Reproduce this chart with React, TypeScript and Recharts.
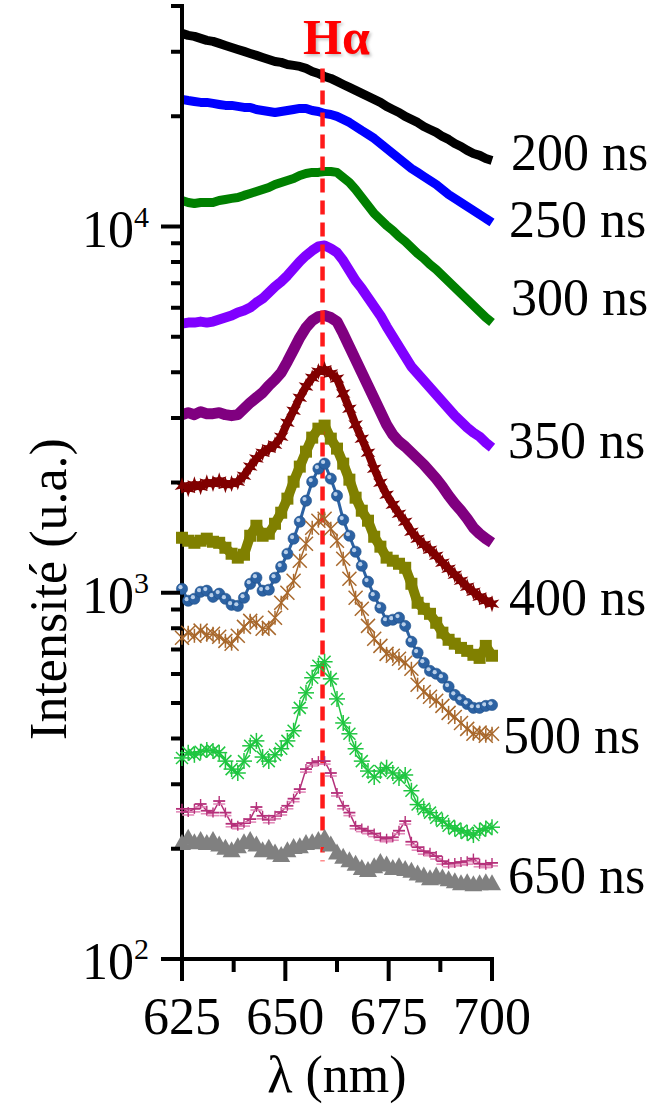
import React from "react";
import { LineChart, Line, XAxis, YAxis } from "recharts";

// Wavelength grid (nm)
const wavelengths = [
  625, 626.5, 628, 629.5, 631, 632.5, 634, 635.5, 637, 638.5, 640, 641.5, 643, 644.5, 646, 647.5, 649,
  650.5, 652, 653.5, 655, 656.5, 658, 659.5, 661, 662.5, 664, 665.5, 667, 668.5, 670, 671.5, 673, 674.5,
  676, 677.5, 679, 680.5, 682, 683.5, 685, 686.5, 688, 689.5, 691, 692.5, 694, 695.5, 697, 698.5, 700,
];

// Spectra, one array per delay (arbitrary units)
const ns200 = [
  33680, 33260, 33050, 32630, 32220, 32020, 31620, 31220, 30830, 30440, 30070, 29690, 29320, 28950, 28590,
  28230, 28060, 27700, 27530, 27360, 27020, 26510, 26180, 25690, 25370, 24900, 24430, 23980, 23530, 23090,
  22660, 22240, 21820, 21280, 20870, 20480, 19980, 19610, 19240, 18760, 18410, 18070, 17620, 17290, 16860,
  16540, 16140, 15830, 15640, 15340, 15150,
];
const ns250 = [
  22240, 22080, 21950, 21820, 21820, 21680, 21540, 21410, 21410, 21280, 21140, 21140, 20870, 20740, 20610,
  20480, 20610, 20740, 20870, 21010, 21010, 20740, 20610, 20350, 20230, 19980, 19610, 19240, 18760, 18280,
  17840, 17400, 16860, 16340, 15830, 15340, 14860, 14400, 14050, 13700, 13350, 13020, 12620, 12230, 11930,
  11630, 11340, 11060, 10780, 10520, 10250,
];
const ns300 = [
  11780, 11630, 11560, 11630, 11630, 11630, 11780, 11850, 11930, 12000, 12160, 12310, 12460, 12620, 12780,
  13020, 13190, 13350, 13520, 13780, 13960, 14050, 14050, 14130, 14130, 14050, 13610, 13190, 12620, 12000,
  11410, 10850, 10450, 10060, 9752, 9391, 9100, 8763, 8437, 8176, 7873, 7629, 7346, 7074, 6813, 6560, 6317,
  6083, 5858, 5641, 5466,
];
const ns300b = [
  5431, 5466, 5466, 5500, 5466, 5500, 5571, 5641, 5712, 5821, 5895, 6007, 6199, 6357, 6602, 6856, 7074,
  7346, 7678, 8024, 8332, 8599, 8819, 8875, 8708, 8491, 8074, 7582, 7118, 6770, 6397, 6045, 5712, 5331,
  5006, 4700, 4414, 4145, 3966, 3795, 3632, 3475, 3325, 3182, 3045, 2932, 2824, 2736, 2668, 2570, 2490,
];
const ns350 = [
  3064, 3103, 3064, 3122, 3083, 3083, 3103, 3064, 3045, 3064, 3182, 3304, 3410, 3519, 3678, 3819, 3991,
  4277, 4612, 4975, 5298, 5536, 5676, 5712, 5641, 5500, 5102, 4700, 4331, 3991, 3678, 3389, 3122, 2878,
  2702, 2586, 2506, 2413, 2324, 2238, 2141, 2049, 1948, 1841, 1751, 1675, 1593, 1505, 1449, 1405, 1369,
];
const ns400 = [
  1960, 1924, 1973, 1948, 1998, 1986, 2022, 1973, 1986, 2010, 2087, 2210, 2324, 2413, 2475, 2537, 2668,
  2914, 3142, 3410, 3655, 3867, 4016, 4067, 3966, 3843, 3497, 3182, 2878, 2635, 2413, 2182, 1998, 1853,
  1740, 1644, 1563, 1468, 1405, 1353, 1311, 1262, 1208, 1163, 1120, 1078, 1038, 1006, 975, 951, 933,
];
const ns450 = [
  1413, 1387, 1369, 1387, 1405, 1378, 1369, 1327, 1278, 1247, 1270, 1431, 1524, 1431, 1449, 1543, 1654,
  1807, 2010, 2210, 2428, 2652, 2806, 2860, 2635, 2475, 2252, 2036, 1818, 1675, 1573, 1422, 1336, 1247,
  1223, 1200, 1170, 1058, 939, 904, 876, 828, 778, 744, 726, 707, 694, 677, 664, 716, 673,
];
const ns500 = [
  1025, 951, 963, 1006, 1013, 975, 994, 963, 927, 921, 969, 1058, 1099, 1013, 1019, 1099, 1178, 1278,
  1405, 1563, 1784, 2010, 2182, 2252, 2049, 1841, 1583, 1431, 1294, 1185, 1072, 981, 910, 838, 844, 855,
  812, 735, 686, 644, 612, 601, 586, 554, 526, 510, 497, 485, 485, 491, 494,
];
const ns550 = [
  754, 778, 763, 788, 768, 773, 758, 739, 726, 763, 807, 838, 828, 797, 802, 855, 939, 1000, 1078, 1223,
  1361, 1505, 1573, 1593, 1496, 1387, 1239, 1092, 969, 904, 812, 749, 716, 681, 673, 660, 644, 620, 561,
  536, 520, 507, 491, 470, 458, 441, 425, 412, 415, 407, 412,
];
const ns600 = [
  354, 366, 361, 368, 372, 370, 366, 347, 330, 322, 347, 382, 394, 356, 347, 361, 375, 394, 420, 485, 533,
  586, 632, 648, 582, 513, 441, 412, 375, 347, 326, 314, 326, 333, 322, 312, 318, 288, 264, 257, 251, 243,
  238, 231, 227, 224, 221, 218, 224, 227, 229,
];
const ns625 = [
  257, 252, 257, 265, 254, 251, 270, 251, 234, 231, 235, 241, 260, 246, 240, 246, 252, 262, 274, 291, 330,
  343, 347, 347, 322, 284, 262, 251, 231, 227, 224, 220, 215, 213, 215, 224, 238, 209, 202, 197, 195, 191,
  185, 182, 183, 184, 185, 188, 182, 181, 183,
];
const ns650 = [
  206, 213, 207, 210, 206, 210, 204, 200, 197, 202, 207, 210, 204, 197, 200, 194, 191, 197, 201, 202, 206,
  207, 210, 213, 204, 194, 189, 185, 181, 176, 174, 178, 183, 180, 176, 178, 175, 173, 170, 168, 165, 168,
  166, 164, 162, 160, 161, 159, 160, 161, 160,
];

// H-alpha marker line: wavelength and intensity span
const hAlphaWl = 659;
const hAlphaSpan = [27000, 185];

const xTicks = [625, 637.5, 650, 662.5, 675, 687.5, 700];
const xMajor = [625, 650, 675, 700];
const yTicks = [
  100, 200, 300, 400, 500, 600, 700, 800, 900, 1000, 2000, 3000, 4000, 5000, 6000, 7000, 8000, 9000,
  10000, 20000, 30000, 40000,
];
const yMajor = [100, 1000, 10000];

const delayLabels = ["200 ns", "250 ns", "300 ns", "350 ns", "400 ns", "500 ns", "650 ns"];
const labelX = [511, 509, 511, 508, 509, 503, 508];
const labelY = [170, 237, 315, 458, 615, 753, 893];

const rows = wavelengths.map((wl, i) => ({
  wl,
  a: ns200[i],
  b: ns250[i],
  c: ns300[i],
  d: ns300b[i],
  e: ns350[i],
  f: ns400[i],
  g: ns450[i],
  h: ns500[i],
  k: ns550[i],
  m: ns600[i],
  n: ns625[i],
  p: ns650[i],
}));

const hAlphaRows = hAlphaSpan.map((v) => ({ wl: hAlphaWl, v }));

const SERIF = { fontFamily: '"Liberation Serif", "Times New Roman", Times, serif' };

function polyPoints(cx: number, cy: number, ro: number, ri: number, n: number) {
  const pts: string[] = [];
  for (let i = 0; i < n * 2; i++) {
    const r = i % 2 === 0 ? ro : ri;
    const a = (Math.PI * i) / n - Math.PI / 2;
    pts.push(`${cx + r * Math.cos(a)},${cy + r * Math.sin(a)}`);
  }
  return pts.join(" ");
}

// marker shapes
const starDot = (p: any) => (
  <polygon key={`st${p.index}`} points={polyPoints(p.cx, p.cy, 8.5, 3.5, 6)} fill="#800000" />
);
const squareDot = (p: any) => (
  <rect key={`sq${p.index}`} x={p.cx - 6} y={p.cy - 6} width={12} height={12} fill="#808000" />
);
const ballDot = (p: any) => (
  <g key={`ba${p.index}`}>
    <circle cx={p.cx} cy={p.cy} r={5.6} fill="#2c62a3" stroke="#1f4f88" strokeWidth={0.6} />
    <circle cx={p.cx - 1.5} cy={p.cy - 1.6} r={2.1} fill="#b9cfe9" />
  </g>
);
const crossDot = (p: any) => (
  <g key={`cr${p.index}`} stroke="#a8682c" strokeWidth={1.5}>
    <line x1={p.cx - 7} y1={p.cy - 7} x2={p.cx + 7} y2={p.cy + 7} />
    <line x1={p.cx - 7} y1={p.cy + 7} x2={p.cx + 7} y2={p.cy - 7} />
    <line x1={p.cx} y1={p.cy - 7} x2={p.cx} y2={p.cy + 7} />
  </g>
);
const asteriskDot = (p: any) => (
  <g key={`as${p.index}`} stroke="#1fc640" strokeWidth={1.5}>
    <line x1={p.cx - 8} y1={p.cy} x2={p.cx + 8} y2={p.cy} />
    <line x1={p.cx} y1={p.cy - 8} x2={p.cx} y2={p.cy + 8} />
    <line x1={p.cx - 6} y1={p.cy - 6} x2={p.cx + 6} y2={p.cy + 6} />
    <line x1={p.cx - 6} y1={p.cy + 6} x2={p.cx + 6} y2={p.cy - 6} />
  </g>
);
const barDot = (p: any) => (
  <g key={`br${p.index}`}>
    <line x1={p.cx - 6} y1={p.cy + 3} x2={p.cx + 6} y2={p.cy + 3} stroke="#e28ab9" strokeWidth={1.6} />
    <line x1={p.cx - 6} y1={p.cy} x2={p.cx + 6} y2={p.cy} stroke="#b5307a" strokeWidth={1.8} />
    <line x1={p.cx} y1={p.cy - 5} x2={p.cx} y2={p.cy + 5} stroke="#b5307a" strokeWidth={1.4} />
  </g>
);
const triDot = (p: any) => (
  <polygon
    key={`tr${p.index}`}
    points={`${p.cx},${p.cy - 10} ${p.cx - 9},${p.cy + 6} ${p.cx + 9},${p.cy + 6}`}
    fill="#808080"
  />
);

function YTick(props: any) {
  const { x, y, payload } = props;
  const major = yMajor.includes(payload.value);
  const exp = Math.round(Math.log10(payload.value));
  return (
    <g>
      <line x1={x - (major ? 19 : 9)} x2={x} y1={y} y2={y} stroke="#000" strokeWidth={4} />
      {major && (
        <text x={x - 31} y={y + 20} textAnchor="end" style={SERIF} fontSize={52} fill="#000">
          10
          <tspan dy={-20} fontSize={30}>
            {exp}
          </tspan>
        </text>
      )}
    </g>
  );
}

function XTick(props: any) {
  const { x, y, payload } = props;
  const major = xMajor.includes(payload.value);
  return (
    <g>
      <line x1={x} x2={x} y1={y} y2={y + (major ? 20 : 11)} stroke="#000" strokeWidth={4} />
      {major && (
        <text x={x} y={y + 73} textAnchor="middle" style={SERIF} fontSize={52} fill="#000">
          {payload.value}
        </text>
      )}
    </g>
  );
}

export default function App() {
  const band = { type: "linear" as const, dot: false, activeDot: false, isAnimationActive: false, strokeLinejoin: "round" as const };
  return (
    <div style={{ position: "absolute", left: 0, top: 0, width: 669, height: 1104, background: "#fff", ...SERIF }}>
      <LineChart width={669} height={1104} data={rows} margin={{ top: 6, right: 177, bottom: 0, left: 0 }}>
        <XAxis
          dataKey="wl"
          type="number"
          domain={[625, 700]}
          ticks={xTicks}
          interval={0}
          height={145}
          tickSize={0}
          tickLine={false}
          tick={<XTick />}
          axisLine={{ stroke: "#000", strokeWidth: 4, strokeLinecap: "square" }}
        />
        <YAxis
          type="number"
          scale="log"
          domain={[100, 40000]}
          allowDataOverflow
          ticks={yTicks}
          interval={0}
          width={182}
          tickSize={0}
          tickLine={false}
          tick={<YTick />}
          axisLine={{ stroke: "#000", strokeWidth: 4, strokeLinecap: "square" }}
        />
        <Line {...band} dataKey="a" stroke="#000000" strokeWidth={9} />
        <Line {...band} dataKey="b" stroke="#0000ff" strokeWidth={9} />
        <Line {...band} dataKey="c" stroke="#008000" strokeWidth={9} />
        <Line {...band} dataKey="d" stroke="#8000ff" strokeWidth={10} />
        <Line {...band} dataKey="e" stroke="#800080" strokeWidth={11} />
        <Line {...band} dataKey="f" stroke="#800000" strokeWidth={8} dot={starDot} />
        <Line {...band} dataKey="g" stroke="#808000" strokeWidth={10} dot={squareDot} />
        <Line {...band} dataKey="h" stroke="#2c62a3" strokeWidth={3} dot={ballDot} />
        <Line {...band} dataKey="k" stroke="#a8682c" strokeWidth={1.5} dot={crossDot} />
        <Line {...band} dataKey="m" stroke="#1fc640" strokeWidth={1.5} dot={asteriskDot} />
        <Line {...band} dataKey="n" stroke="#b5307a" strokeWidth={1.5} dot={barDot} />
        <Line {...band} dataKey="p" stroke="#808080" strokeWidth={4} dot={triDot} />
        <Line
          {...band}
          data={hAlphaRows}
          dataKey="v"
          stroke="#ff1a1a"
          strokeWidth={4.5}
          strokeDasharray="14 8"
          strokeLinejoin="miter"
        />
      </LineChart>
      <svg
        width={669}
        height={1104}
        style={{ position: "absolute", left: 0, top: 0, pointerEvents: "none" }}
      >
        <defs>
          <filter id="soft" x="-20%" y="-20%" width="140%" height="140%">
            <feGaussianBlur stdDeviation="1.5" />
          </filter>
        </defs>
        <text x={305} y={56} style={SERIF} fontWeight="bold" fontSize={50} fill="#999" opacity={0.6} filter="url(#soft)">
          Hα
        </text>
        <text x={303} y={54} style={SERIF} fontWeight="bold" fontSize={50} fill="#ff0000">
          Hα
        </text>
        {delayLabels.map((t, i) => (
          <text key={t} x={labelX[i]} y={labelY[i]} style={SERIF} fontSize={52} fill="#000">
            {t}
          </text>
        ))}
        <text
          transform="translate(66,589) rotate(-90)"
          textAnchor="middle"
          style={SERIF}
          fontSize={52}
          fill="#000"
        >
          Intensité (u.a.)
        </text>
        <text x={337} y={1092} textAnchor="middle" style={SERIF} fontSize={52} fill="#000">
          λ (nm)
        </text>
      </svg>
    </div>
  );
}
